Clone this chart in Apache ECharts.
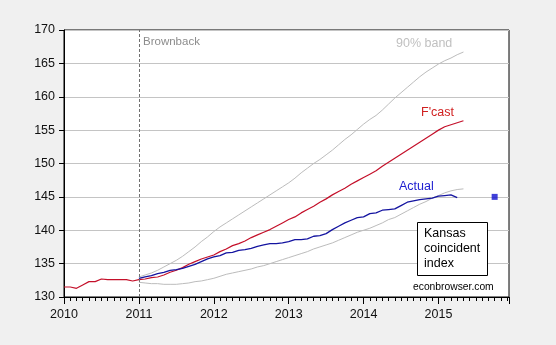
<!DOCTYPE html>
<html><head><meta charset="utf-8">
<script src="https://cdn.jsdelivr.net/npm/echarts@6/dist/echarts.min.js"></script>
<style>html,body{margin:0;padding:0;background:#f0f0f0;}#c{width:556px;height:345px;}</style>
</head><body><div id="c"></div>
<script>
// Months counted from Jan 2010 (0) ; year tick labels
const yearLabels = ['2010','2011','2012','2013','2014','2015'];
// Kansas coincident index history, Jan 2010 - Dec 2010
const history = [131.5,131.5,131.3,131.8,132.3,132.3,132.7,132.6,132.6,132.6,132.6,132.4];
// Forecast, Jan 2011 - May 2015
const forecastStart = 12;
const forecast = [132.6,132.7,132.9,133.0,133.3,133.7,134.0,134.4,134.9,135.3,135.7,136.0,
  136.3,136.8,137.2,137.7,138.0,138.4,138.9,139.3,139.7,140.1,140.6,141.1,
  141.6,142.0,142.6,143.1,143.6,144.2,144.7,145.3,145.8,146.3,146.9,147.4,
  147.9,148.4,148.9,149.6,150.2,150.8,151.4,152.0,152.6,153.2,153.8,154.4,
  155.0,155.5,155.8,156.1,156.4];
const upper = [133.0,133.3,133.6,134.0,134.5,135.0,135.5,136.1,136.8,137.5,138.3,139.0,
  139.8,140.5,141.1,141.7,142.3,142.9,143.5,144.1,144.7,145.3,145.9,146.5,
  147.1,147.8,148.6,149.3,150.0,150.6,151.3,152.0,152.8,153.6,154.3,155.1,
  155.9,156.6,157.2,158.0,158.9,159.8,160.6,161.4,162.2,163.0,163.7,164.3,
  164.9,165.4,165.8,166.3,166.7];
const lower = [132.2,132.1,132.0,132.0,131.9,131.9,131.9,132.0,132.1,132.3,132.4,132.6,
  132.8,133.1,133.4,133.6,133.8,134.0,134.2,134.5,134.7,135.0,135.3,135.6,
  135.9,136.2,136.5,136.8,137.2,137.5,137.8,138.1,138.5,138.9,139.3,139.7,
  140.0,140.3,140.7,141.1,141.6,141.9,142.4,142.9,143.4,143.9,144.3,144.8,
  145.2,145.6,145.9,146.1,146.2];
// Actual, Jan 2011 - Apr 2015
const actual = [132.8,133.0,133.2,133.5,133.7,134.0,134.1,134.3,134.6,134.9,135.3,135.7,
  136.0,136.2,136.6,136.7,137.0,137.1,137.3,137.6,137.8,138.0,138.0,138.1,
  138.3,138.6,138.6,138.7,139.1,139.2,139.5,140.1,140.6,141.1,141.5,141.9,
  142.0,142.5,142.6,143.0,143.1,143.2,143.7,144.2,144.4,144.6,144.7,144.8,
  145.1,145.2,145.3,144.9];
// Latest single observation (Oct 2015)
const latestMonth = [69];
const latestValue = [145.0];

const pairs = (arr, start) => arr.map((v, i) => [start + i, v]);
const redData = pairs(history, 0).concat(pairs(forecast, forecastStart));

const FONT = '"Liberation Sans", Arial, sans-serif';
const chart = echarts.init(document.getElementById('c'), null, {renderer: 'canvas'});
const gridDef = {left: 64, top: 30, width: 445, height: 267, show: true, backgroundColor: '#ffffff', borderColor: '#000', borderWidth: 1};
chart.setOption({
  animation: false,
  backgroundColor: '#f0f0f0',
  grid: gridDef,
  xAxis: [{
    type: 'value', min: 0, max: 71.3, interval: 12,
    axisLine: {lineStyle: {color: '#000', width: 1}},
    axisTick: {length: 7, lineStyle: {color: '#000'}},
    splitLine: {show: false},
    axisLabel: {fontFamily: FONT, fontSize: 12.5, color: '#111', margin: 11,
      formatter: v => (Math.abs(v % 12) < 1e-6 ? yearLabels[v / 12] : '')}
  }, {
    type: 'value', min: 0, max: 71.3, interval: 1, position: 'bottom',
    axisLine: {show: false},
    axisTick: {length: 4, lineStyle: {color: '#000'}},
    splitLine: {show: false},
    axisLabel: {show: false}
  }],
  yAxis: {
    type: 'value', min: 130, max: 170, interval: 5,
    axisLine: {show: true, lineStyle: {color: '#000'}},
    axisTick: {show: true, length: 5, lineStyle: {color: '#000'}},
    splitLine: {lineStyle: {color: '#c4c4c4', width: 1}},
    axisLabel: {fontFamily: FONT, fontSize: 12.5, color: '#111', margin: 9}
  },
  series: [
    {type: 'line', name: 'upper', data: pairs(upper, forecastStart), showSymbol: false,
      lineStyle: {color: '#bcbcbc', width: 1}, z: 2},
    {type: 'line', name: 'lower', data: pairs(lower, forecastStart), showSymbol: false,
      lineStyle: {color: '#bcbcbc', width: 1}, z: 2},
    {type: 'line', name: 'forecast', data: redData, showSymbol: false,
      lineStyle: {color: '#c4102a', width: 1.2}, z: 3,
      markLine: {silent: true, symbol: 'none', label: {show: false},
        lineStyle: {color: '#707070', type: [3, 2], width: 1},
        data: [{xAxis: forecastStart}]}},
    {type: 'line', name: 'actual', data: pairs(actual, forecastStart), showSymbol: false,
      lineStyle: {color: '#1414a0', width: 1.3}, z: 4},
    {type: 'scatter', name: 'latest', data: latestMonth.map((m, i) => [m, latestValue[i]]),
      symbol: 'rect', symbolSize: 6, itemStyle: {color: '#1010d0'}, z: 5}
  ],
  graphic: [
    {type: 'text', left: 143, top: 36, style: {text: 'Brownback', fill: '#8c8c8c', font: '11.5px ' + FONT}},
    {type: 'text', left: 396, top: 37, style: {text: '90% band', fill: '#c0c0c0', font: '12.5px ' + FONT}},
    {type: 'text', left: 421, top: 106.5, style: {text: "F'cast", fill: '#d02020', font: '12.5px ' + FONT}},
    {type: 'text', left: 399, top: 180, style: {text: 'Actual', fill: '#2020d0', font: '12.5px ' + FONT}},
    {type: 'rect', shape: {x: 417.5, y: 222.5, width: 70, height: 53}, style: {fill: '#fff', stroke: '#000', lineWidth: 1}, z: 10},
    {type: 'text', left: 424, top: 226, z: 11, style: {text: 'Kansas\ncoincident\nindex', fill: '#000', font: '12.5px ' + FONT, lineHeight: 15}},
    {type: 'text', left: 413, top: 282, z: 11, style: {text: 'econbrowser.com', fill: '#000', font: '10.3px ' + FONT}}
  ]
});
</script>
</body></html>
